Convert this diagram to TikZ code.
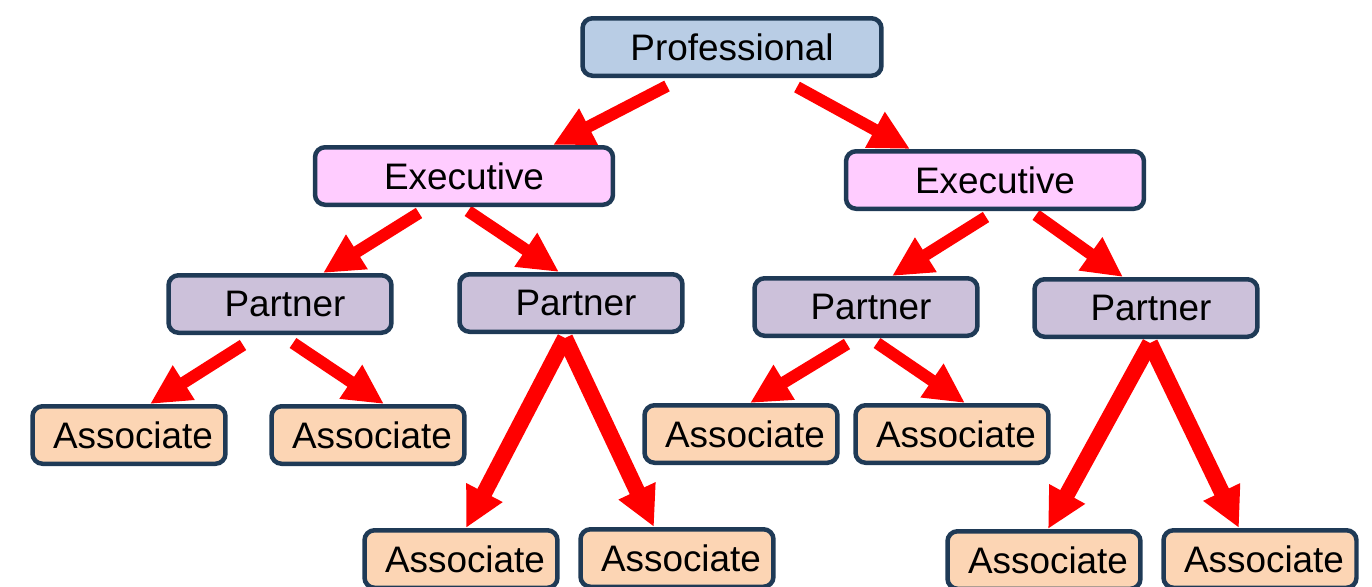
\documentclass[tikz,border=0pt]{standalone}
\usepackage{fontspec}
\setmainfont{Liberation Sans}
\usetikzlibrary{arrows.meta,calc,backgrounds}
\definecolor{boxline}{HTML}{1F3A56}
\definecolor{proffill}{HTML}{B9CDE5}
\definecolor{execfill}{HTML}{FFCCFF}
\definecolor{partfill}{HTML}{CCC1DA}
\definecolor{assocfill}{HTML}{FCD5B4}

\begin{document}
\begin{tikzpicture}[x=0.02cm, y=-0.02cm,
  box/.style={draw=boxline, line width=0.09cm, rounded corners=0.2cm,
    minimum height=1.15cm, inner sep=0pt,
    font=\fontsize{21pt}{25pt}\selectfont},
  profbox/.style={box, fill=proffill, minimum width=5.98cm},
  execbox/.style={box, fill=execfill, minimum width=5.96cm},
  partbox/.style={box, fill=partfill, minimum width=4.46cm,
    execute at begin node={\hspace{0.2cm}}},
  assocbox/.style={box, fill=assocfill, minimum width=3.86cm,
    execute at begin node={\hspace{0.16cm}}},
  redarrow/.style={draw=red, line width=0.24cm,
    -{Triangle[length=0.8cm, width=0.76cm]}},
  longarrow/.style={redarrow, line width=0.32cm}]
\useasboundingbox (0,0) rectangle (1372,586);
\clip (0,0) rectangle (1372,586);
\node[profbox] (prof) at (732,47) {Professional}; % top
\node[execbox] (exl) at (464,176) {Executive}; % left
\node[execbox] (exr) at (995,180) {Executive}; % right
\node[partbox] (pll) at (280,304) {Partner};
\node[partbox] (plr) at (571,303) {Partner};
\node[partbox] (prl) at (866,307) {Partner};
\node[partbox] (prr) at (1146,308) {Partner};
\node[assocbox] (a1) at (129,435) {Associate};
\node[assocbox] (a2) at (368,435) {Associate};
\node[assocbox] (a3) at (461,559) {Associate};
\node[assocbox] (a4) at (677,558) {Associate};
\node[assocbox] (a5) at (741,434) {Associate};
\node[assocbox] (a6) at (952,434) {Associate};
\node[assocbox] (a7) at (1044,560) {Associate};
\node[assocbox] (a8) at (1260,559) {Associate};
\begin{scope}[on background layer]
\draw[redarrow] ($(prof.south)+(-65,8)$) -- ($(exl.north)+(89,0)$);
\draw[redarrow] ($(prof.south)+(65,9)$) -- ($(exr.north)+(-85,0)$);
\draw[redarrow] ($(exl.south)+(-45,6)$) -- ($(pll.north)+(43,0)$);
\draw[redarrow] ($(exl.south)+(4,4)$) -- ($(plr.north)+(-12,0)$);
\draw[redarrow] ($(exr.south)+(-9,6)$) -- ($(prl.north)+(26,0)$);
\draw[redarrow] ($(exr.south)+(41,4)$) -- ($(prr.north)+(-23,0)$);
\draw[redarrow] ($(pll.south)+(-37,10)$) -- ($(a1.north)+(21,0)$);
\draw[redarrow] ($(pll.south)+(13,8)$) -- ($(a2.north)+(16,0)$);
\draw[longarrow] ($(plr.south)+(-6,4)$) -- ($(a3.north)+(5,0)$);
\draw[longarrow] ($(plr.south)+(-6,4)$) -- ($(a4.north)+(-23,0)$);
\draw[redarrow] ($(prl.south)+(-19,6)$) -- ($(a5.north)+(9,0)$);
\draw[redarrow] ($(prl.south)+(11,5)$) -- ($(a6.north)+(13,0)$);
\draw[longarrow] ($(prr.south)+(4,4)$) -- ($(a7.north)+(4,0)$);
\draw[longarrow] ($(prr.south)+(4,4)$) -- ($(a8.north)+(-21,0)$);
\end{scope}
\end{tikzpicture}
\end{document}
